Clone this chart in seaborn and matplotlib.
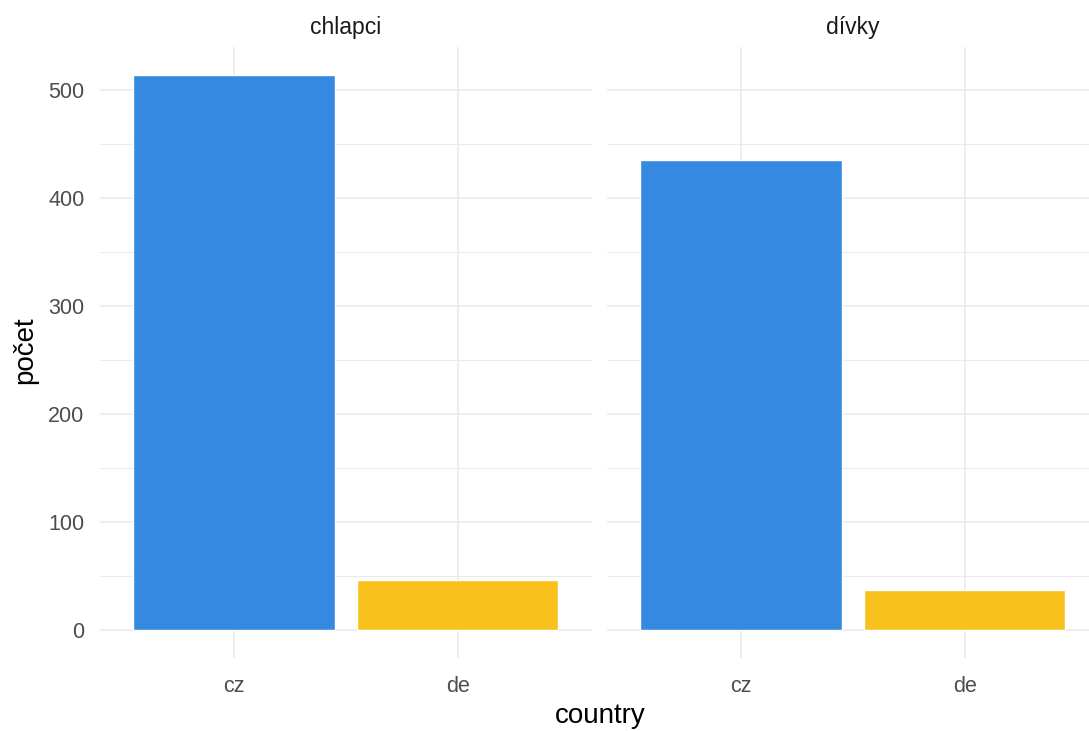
import pandas as pd
import numpy as np
import matplotlib
matplotlib.use("Agg")
import matplotlib.pyplot as plt
import seaborn as sns
from matplotlib.ticker import MultipleLocator

# data
panels = ["chlapci", "dívky"]
countries = ["cz", "de"]
counts_chlapci = [514, 46]
counts_divky = [435, 37]
colors = {"cz": "#3589E0", "de": "#F8C11B"}

df = pd.DataFrame({
    "sex": ["chlapci"] * 2 + ["dívky"] * 2,
    "country": countries * 2,
    "count": counts_chlapci + counts_divky,
})

sns.set_theme(style="white")
plt.rcParams["font.family"] = ["Liberation Sans", "DejaVu Sans"]

fig = plt.figure(figsize=(10.89, 7.31), dpi=100)

# ggplot-like expansion of the y range
ymax = df["count"].max()
ylims = (-0.05 * ymax, 1.05 * ymax)

lefts = [99.6 / 1089, 606.6 / 1089]
width = 492.4 / 1089
bottom = (731 - 657.5) / 731
height = 610.7 / 731

for i, (panel, left) in enumerate(zip(panels, lefts)):
    ax = fig.add_axes([left, bottom, width, height])
    sub = df[df["sex"] == panel]
    sns.barplot(data=sub, x="country", y="count", hue="country", order=countries,
                palette=colors, width=0.9, legend=False, ax=ax, saturation=1)
    ax.set_xlim(-0.6, 1.6)
    ax.set_ylim(*ylims)
    ax.yaxis.set_major_locator(MultipleLocator(100))
    ax.yaxis.set_minor_locator(MultipleLocator(50))
    ax.set_axisbelow(True)
    ax.grid(True, which="major", axis="both", color="#EBEBEB", linewidth=1.2)
    ax.grid(True, which="minor", axis="y", color="#EBEBEB", linewidth=0.8)
    for s in ax.spines.values():
        s.set_visible(False)
    ax.tick_params(axis="both", which="both", length=0, labelsize=15.5, colors="#4D4D4D")
    ax.tick_params(axis="x", pad=13)
    ax.tick_params(axis="y", pad=11)
    ax.set_title(panel, fontsize=16.5, color="#1A1A1A", pad=9)
    ax.set_xlabel("")
    ax.set_ylabel("")
    if i == 1:
        ax.set_yticklabels([])

fig.text(600 / 1089, 1 - 716 / 731, "country", ha="center", va="center", fontsize=20, color="black")
fig.text(25 / 1089, 1 - 350 / 731, "počet", ha="center", va="center", rotation=90,
         fontsize=20, color="black")

fig.savefig("out.png", dpi=100)
